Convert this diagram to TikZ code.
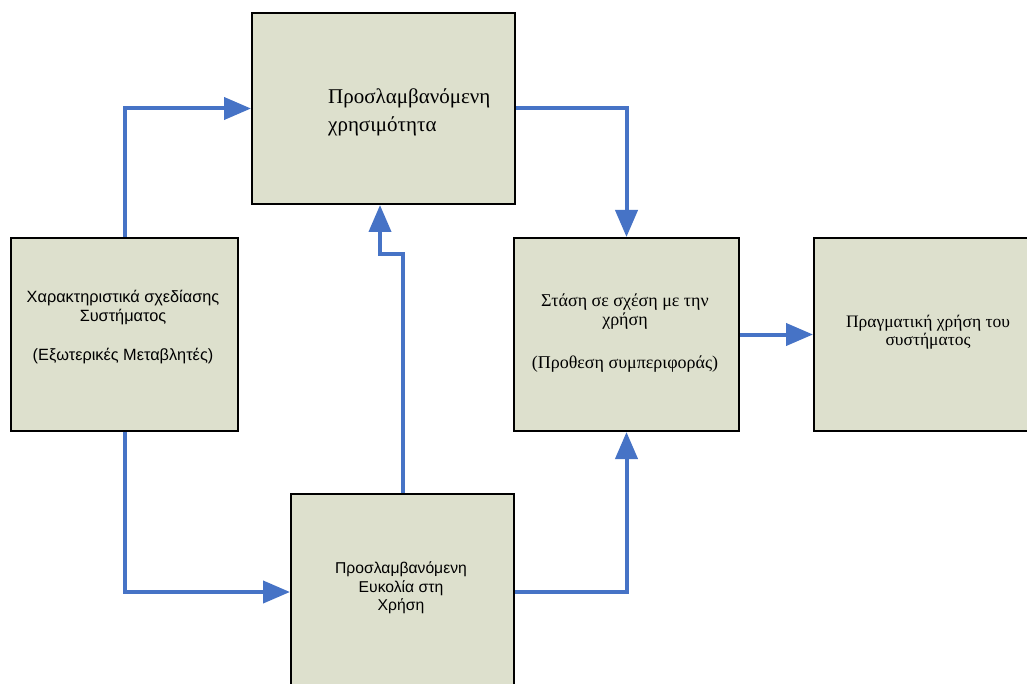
\documentclass[tikz,border=0pt]{standalone}
\usepackage{fontspec}
\setmainfont{Liberation Serif}
\setsansfont{Liberation Sans}
\usetikzlibrary{arrows.meta}
\definecolor{boxfill}{RGB}{221,224,205}
\definecolor{flowblue}{RGB}{70,115,198}
\begin{document}
\begin{tikzpicture}[x=1pt,y=-1pt,
  panel/.style={draw=black,line width=2pt,fill=boxfill,inner sep=0pt,anchor=north west},
  flow/.style={draw=flowblue,line width=4pt,-{Triangle[length=27pt,width=22pt]}},
  serifnote/.style={font=\fontsize{18}{19}\selectfont,align=center,inner sep=0pt},
  sansnote/.style={font=\sffamily\fontsize{16.3}{19}\selectfont,align=center,inner sep=0pt}]
\fill[white] (0,0) rectangle (1027,684);
\useasboundingbox (0,0) rectangle (1027,684);
% boxes
\node[panel,minimum width=263pt,minimum height=191pt] (U) at (251,12) {};
\node[panel,minimum width=227pt,minimum height=193pt] (X) at (10,237) {};
\node[panel,minimum width=225pt,minimum height=193pt] (A) at (513,237) {};
\node[panel,minimum width=230pt,minimum height=193pt] (R) at (813,237) {};
\node[panel,minimum width=223pt,minimum height=196pt] (E) at (290,493) {};
% labels
\node[serifnote,font=\fontsize{21}{28}\selectfont,align=left,anchor=north west] (Ut) at (328,88) {Προσλαμβανόμενη\\χρησιμότητα};
\node[sansnote] (Xt1) at (123,308) {Χαρακτηριστικά σχεδίασης\\Συστήματος};
\node[sansnote] (Xt2) at (123,356) {(Εξωτερικές Μεταβλητές)};
\node[serifnote] (At1) at (625,312) {Στάση σε σχέση με την\\χρήση};
\node[serifnote] (At2) at (625,364) {(Προθεση συμπεριφοράς)};
\node[serifnote,font=\fontsize{17.5}{18.5}\selectfont] (Rt) at (928,332) {Πραγματική χρήση του\\συστήματος};
\node[sansnote,font=\sffamily\fontsize{15.7}{18.5}\selectfont] (Et) at (401,588) {Προσλαμβανόμενη\\Ευκολία στη\\Χρήση};
% connectors
\coordinate (k) at (380,254);
\draw[flow] (X.north) |- (U.west);
\draw[flow] (X.south) |- (E.west);
\draw[flow] (E.north) -- (E.north |- k) -- (k) -- (U.south -| k);
\draw[flow] (U.east) -| (A.north);
\draw[flow] (E.east) -| (A.south);
\draw[flow] (A.east) -- (R.west);
\end{tikzpicture}
\end{document}
